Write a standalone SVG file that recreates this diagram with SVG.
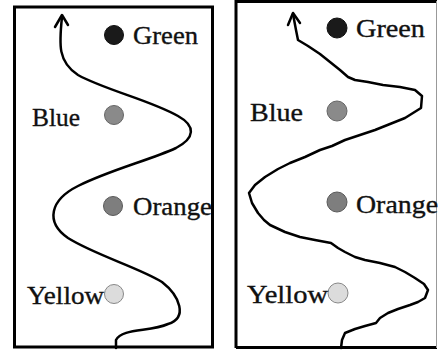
<svg xmlns="http://www.w3.org/2000/svg" width="438" height="351" viewBox="0 0 438 351">
<style>
.frame{fill:none;stroke:#000;stroke-width:3}
.lbl{font-family:"Liberation Serif","Times New Roman",serif;font-size:25.5px;fill:#111;stroke:#111;stroke-width:0.35}
.path{fill:none;stroke:#000;stroke-width:2.5;stroke-linejoin:round;stroke-linecap:round}
.green{fill:#1a1a1a;stroke:#111;stroke-width:1}
.blue{fill:#8a8a8a;stroke:#666;stroke-width:1}
.orange{fill:#7e7e7e;stroke:#5a5a5a;stroke-width:1}
.yellow{fill:#dcdcdc;stroke:#888;stroke-width:1}
</style>
<rect width="438" height="351" fill="#fff"/>
<g id="frames">
<rect class="frame" x="14.5" y="7" width="198" height="340"/>
<path class="frame" d="M236,348 L236,1.5 L437,1.5"/>
<path d="M236,347.5 L437,347.5" stroke="#000" stroke-width="3" fill="none"/>
<line x1="436.5" y1="1" x2="436.5" y2="348" stroke="#999" stroke-width="1"/>
</g>
<g id="connectors">
<path class="path" d="M62,17 C59,45 58,62 78,75 C105,90 150,100 178,116 C196,126 195,138 176,148 C150,160 110,170 78,186 C50,200 45,222 68,238 C95,255 140,268 162,282 C180,296 188,318 168,324 C150,332 122,328 116,340 L116,348"/>
<path class="path" d="M55,27 L62,15 L68,25"/>
<path class="path" d="M293,14 L296,30 L298,40 L308,46 L320,54 L330,62 L340,70 L348,77 L355,80 L368,82 L383,85 L400,87 L415,90 L422,96 L421,108 L405,118 L390,124 L375,130 L360,135 L345,140 L332,146 L320,150 L305,157 L290,163 L278,169 L265,177 L255,185 L249,193 L252,203 L258,213 L264,220 L270,225 L285,232 L300,237 L315,240 L331,243 L338,248 L345,252 L355,257 L365,260 L380,263 L395,267 L405,272 L415,278 L424,284 L428,290 L425,298 L418,302 L410,305 L398,309 L388,313 L380,318 L376,323 L365,326 L355,329 L345,333 L342,340 L341,348"/>
<path class="path" d="M288,25 L293,13 L300,23"/>
</g>
<g id="left-green"><circle class="green" cx="114" cy="35" r="9.5"/><text class="lbl" x="133" y="44" textLength="65" lengthAdjust="spacingAndGlyphs">Green</text></g>
<g id="left-blue"><circle class="blue" cx="114" cy="115" r="9.5"/><text class="lbl" x="32" y="126" textLength="48" lengthAdjust="spacingAndGlyphs">Blue</text></g>
<g id="left-orange"><circle class="orange" cx="113" cy="206" r="9.5"/><text class="lbl" x="133" y="215" textLength="79" lengthAdjust="spacingAndGlyphs">Orange</text></g>
<g id="left-yellow"><circle class="yellow" cx="114" cy="294" r="9.5"/><text class="lbl" x="27" y="304" textLength="77" lengthAdjust="spacingAndGlyphs">Yellow</text></g>
<g id="right-green"><circle class="green" cx="337" cy="28" r="10"/><text class="lbl" x="356" y="37" textLength="69" lengthAdjust="spacingAndGlyphs">Green</text></g>
<g id="right-blue"><circle class="blue" cx="337" cy="111" r="10"/><text class="lbl" x="250" y="121" textLength="53" lengthAdjust="spacingAndGlyphs">Blue</text></g>
<g id="right-orange"><circle class="orange" cx="337" cy="202" r="10"/><text class="lbl" x="356" y="213" textLength="82" lengthAdjust="spacingAndGlyphs">Orange</text></g>
<g id="right-yellow"><circle class="yellow" cx="338" cy="293" r="10"/><text class="lbl" x="247" y="303" textLength="81" lengthAdjust="spacingAndGlyphs">Yellow</text></g>
</svg>
